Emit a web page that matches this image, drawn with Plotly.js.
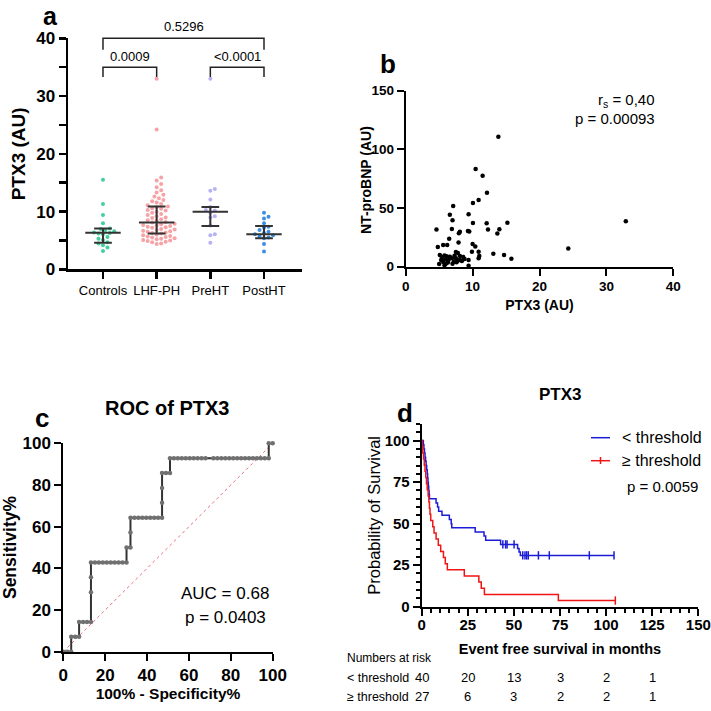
<!DOCTYPE html>
<html><head><meta charset="utf-8">
<script src="https://cdn.plot.ly/plotly-3.0.1.min.js"></script>
<style>html,body{margin:0;padding:0;background:#fff}#chart{width:711px;height:711px}</style>
</head><body><div id="chart"></div>
<script>
const F = 'Liberation Sans, Arial, Helvetica, sans-serif';

// ---------- Panel a data ----------
const groups = ['Controls', 'LHF-PH', 'PreHT', 'PostHT'];
const groupColors = ['#45cf9c', '#f5a3a6', '#b7b3f3', '#3c8ee6'];
const controls = [15.5, 11.3, 9.4, 8.0, 7.1, 7.0, 6.8, 6.6, 6.4, 6.3, 6.2, 6.1, 5.6, 5.3, 5.1, 4.7, 4.5, 4.2, 3.8, 3.2];
const lhfph = [4.4, 4.5, 4.7, 4.8, 4.9, 5.0, 5.1, 5.2, 5.3, 5.4, 5.5, 5.6, 5.7, 5.8, 5.9, 6.0, 6.2,
  6.3, 6.4, 6.5, 6.6, 6.7, 6.8, 6.9, 7.0, 7.2, 7.3, 7.4, 7.5, 7.6, 7.7, 7.8, 7.9, 8.1,
  8.2, 8.4, 8.5, 8.7, 8.9, 9.0, 9.2, 9.4, 9.6, 9.8, 10.0, 10.2, 10.3, 10.5, 10.6, 10.8, 10.9,
  11.1, 11.3, 11.6, 11.8, 12.0, 12.3, 12.6, 12.9, 13.3, 13.7, 14.2, 14.8, 15.4, 15.9, 24.2, 33.0];
const preht = [33.0, 13.9, 13.6, 12.1, 10.8, 10.3, 10.2, 9.8, 9.2, 9.0, 7.6, 6.1, 5.9, 4.6];
const postht = [9.8, 9.1, 8.8, 8.0, 7.4, 7.2, 6.8, 6.5, 6.3, 6.1, 5.9, 5.7, 5.5, 5.4, 4.4, 3.1];
const medians = [6.35, 8.1, 10.0, 6.1];
const q1 = [4.6, 6.2, 7.5, 5.4];
const q3 = [7.1, 10.9, 10.8, 7.5];
// comparisons between groups
const compA = [0, 0, 2];
const compB = [3, 1, 3];
const compTop = [40, 35, 35];
const compLeg = [38, 33.3, 33.3];
const compLabelY = [42, 36.9, 36.9];
const compLabel = ['0.5296', '0.0009', '<0.0001'];

// ---------- Panel b data ----------
const bPTX3 = [13.85, 10.45, 11.5, 12.15, 10.9, 10.05, 7.1, 6.6, 9.4, 7.0, 10.05, 12.1, 15.2, 32.9, 4.6, 6.9, 9.3, 9.5, 12.3, 14.0,
  13.7, 7.95, 8.1, 6.5, 5.6, 6.2, 7.9, 4.8, 10.0, 10.4, 24.3, 9.9, 7.5, 7.8, 10.9, 13.1, 14.7, 15.8, 11.0, 10.9,
  5.1, 5.4, 5.8, 6.1, 6.6, 7.3, 8.1, 8.6, 5.3, 5.9, 6.4, 6.9, 7.5, 8.1, 9.4, 5.0, 6.0, 7.2, 7.6, 9.4,
  5.6, 6.3, 8.4, 7.0, 5.8, 8.8, 7.8];
const bNTproBNP = [110.8, 83.2, 77.6, 63.1, 56.8, 54.2, 51.8, 44.3, 44.6, 39.6, 37.2, 37.0, 37.5, 38.7, 31.6, 32.1, 30.4, 30.0, 31.6, 32.0,
  28.3, 28.6, 29.7, 23.8, 18.5, 18.5, 20.6, 16.8, 19.3, 17.3, 15.5, 12.8, 12.5, 11.7, 12.8, 11.1, 10.0, 6.8, 9.1, 7.3,
  10.0, 8.2, 9.6, 8.9, 8.4, 9.4, 9.1, 8.3, 5.8, 6.4, 5.7, 7.1, 7.1, 5.7, 5.7, 2.3, 2.5, 4.3, 3.8, 0.9,
  4.0, 3.5, 4.8, 2.6, 1.2, 6.6, 5.2];

// ---------- Panel c data (ROC: false positives out of 53, true positives out of 14) ----------
const rocNeg = 53, rocPos = 14;
const rocFP = [0, 1, 2, 2, 3, 4, 4, 5, 6, 7, 7, 7, 7, 8, 9, 10, 11, 12, 13, 14, 15, 16, 16, 17, 17, 17,
  18, 19, 20, 21, 22, 23, 24, 25, 25, 25, 25, 26, 27,
  27, 28, 29, 30, 31, 32, 33, 34, 35, 36, 38, 39, 40, 41, 42, 43, 44, 45, 46, 47, 48, 49, 50, 51, 52, 52, 53];
const rocTP = [0, 0, 0, 1, 1, 1, 2, 2, 2, 2, 4, 5, 6, 6, 6, 6, 6, 6, 6, 6, 6, 6, 7, 7, 8, 9,
  9, 9, 9, 9, 9, 9, 9, 9, 10, 11, 12, 12, 12,
  13, 13, 13, 13, 13, 13, 13, 13, 13, 13, 13, 13, 13, 13, 13, 13, 13, 13, 13, 13, 13, 13, 13, 13, 13, 14, 14];

// ---------- Panel d data (Kaplan-Meier) ----------
const belowT = [0, 0.9, 1.2, 1.5, 1.8, 2.1, 2.4, 2.7, 3.0, 3.2, 3.4, 3.6, 3.8, 4.0, 4.2, 7.8, 8.6, 9.2, 11.0, 15.0, 16.0, 16.3, 29.0, 33.8, 34.7, 42.8, 52.0, 52.8, 53.5, 104.3];
const belowS = [100, 97.5, 95, 92.5, 90, 87.5, 85, 82.5, 80, 77.5, 75, 72.5, 70, 67.5, 65, 62.5, 60, 57.5, 55, 52.5, 50, 47.5, 45, 42.5, 40, 37.5, 35.0, 33.0, 30.9, 30.9];
const belowCensor = [44.0, 45.5, 46.3, 50.1, 54.8, 56.0, 56.9, 57.8, 63.3, 69.2, 90.9, 104.3];
const aboveT = [0, 0.3, 0.6, 1.0, 1.4, 1.8, 2.2, 2.6, 3.0, 3.5, 3.9, 4.2, 4.5, 4.9, 6.0, 6.7, 7.8, 9.0, 10.3, 11.8, 12.8, 13.9, 23.1, 31.0, 32.3, 34.0, 74.1, 105.0];
const aboveS = [100, 96.3, 92.6, 88.9, 85.2, 81.5, 77.8, 74.1, 70.4, 66.7, 63.0, 59.3, 55.6, 51.9, 48.1, 44.4, 40.7, 37.0, 33.3, 29.6, 25.9, 22.2, 18.5, 14.8, 11.1, 7.4, 3.7, 3.7];
const aboveCensor = [105.0];
const riskTimes = [0, 25, 50, 75, 100, 125];
const riskBelow = [40, 20, 13, 3, 2, 1];
const riskAbove = [27, 6, 3, 2, 2, 1];
const blueC = '#1c1cd6', redC = '#f01414';

// ---------- layout geometry ----------
const W = 711, H = 711;
const domA = {x: [68 / W, 302 / W], y: [1 - 269.4 / H, 1 - 38.3 / H]};
const rangeAx = [-0.652, 3.708];
const domB = {x: [405.7 / W, 673.3 / W], y: [1 - 266.7 / H, 1 - 90.7 / H]};
const domC = {x: [63.3 / W, 272.7 / W], y: [1 - 651.7 / H, 1 - 443.3 / H]};
const domD = {x: [421.7 / W, 698.3 / W], y: [1 - 606.7 / H, 1 - 424 / H]};
const helperTop = 0.995;
const helperRange = [0, 40 * (helperTop - domA.y[0]) / (domA.y[1] - domA.y[0])];

// beeswarm layout (deterministic, pixel-based non-overlap)
const xPxPerUnit = (domA.x[1] - domA.x[0]) * W / (rangeAx[1] - rangeAx[0]);
const yPxPerUnit = (domA.y[1] - domA.y[0]) * H / 40;
function swarm(vals, center, d) {
  const placed = [];
  const res = new Array(vals.length);
  const order = vals.map((v, i) => i).sort((a, b) => vals[a] - vals[b]);
  for (const i of order) {
    const py = vals[i] * yPxPerUnit;
    let off = 0;
    for (let s = 0; s < 400; s++) {
      const cand = s === 0 ? 0 : (s % 2 ? 1 : -1) * Math.ceil(s / 2) * d * 0.5;
      if (placed.every(p => Math.hypot(p[0] - cand, p[1] - py) >= d)) { off = cand; break; }
    }
    placed.push([off, py]);
    res[i] = center + off / xPxPerUnit;
  }
  return res;
}

const traces = [];
const groupVals = [controls, lhfph, preht, postht];
groupVals.forEach((vals, g) => {
  traces.push({type: 'scatter', mode: 'markers', x: swarm(vals, g, 4.5), y: vals, xaxis: 'x', yaxis: 'y',
    marker: {color: groupColors[g], size: 4}, cliponaxis: false, hoverinfo: 'y'});
});
groupVals.forEach((vals, g) => {
  const mw = 0.33, ww = 0.165;
  traces.push({type: 'scatter', mode: 'lines', xaxis: 'x', yaxis: 'y',
    x: [g - mw, g + mw, null, g - ww, g + ww, null, g - ww, g + ww, null, g, g],
    y: [medians[g], medians[g], null, q1[g], q1[g], null, q3[g], q3[g], null, q1[g], q3[g]],
    line: {color: '#333', width: 2}, hoverinfo: 'skip'});
});
// comparison brackets on helper axes (same scale as panel a)
compA.forEach((a, k) => {
  const b = compB[k];
  traces.push({type: 'scatter', mode: 'lines', xaxis: 'x5', yaxis: 'y5',
    x: [a, a, b, b], y: [compLeg[k], compTop[k], compTop[k], compLeg[k]],
    line: {color: '#222', width: 1.5}, hoverinfo: 'skip'});
});

// Panel b
traces.push({type: 'scatter', mode: 'markers', x: bPTX3, y: bNTproBNP, xaxis: 'x2', yaxis: 'y2',
  marker: {color: '#000', size: 4.5}, cliponaxis: false});

// Panel c
traces.push({type: 'scatter', mode: 'lines', x: [0, 100], y: [0, 100], xaxis: 'x3', yaxis: 'y3',
  line: {color: '#e8707a', width: 1, dash: 'dot'}, hoverinfo: 'skip'});
traces.push({type: 'scatter', mode: 'lines+markers', xaxis: 'x3', yaxis: 'y3',
  x: rocFP.map(v => v / rocNeg * 100), y: rocTP.map(v => v / rocPos * 100),
  line: {color: '#333', width: 2}, marker: {color: '#707070', size: 4.5}, cliponaxis: false});

// Panel d
function stepAt(T, S, t) { let v = S[0]; for (let i = 0; i < T.length; i++) { if (T[i] <= t) v = S[i]; } return v; }
traces.push({type: 'scatter', mode: 'lines', x: belowT, y: belowS, xaxis: 'x4', yaxis: 'y4',
  line: {color: blueC, width: 1.5, shape: 'hv'}});
traces.push({type: 'scatter', mode: 'markers', x: belowCensor, y: belowCensor.map(t => stepAt(belowT, belowS, t)), xaxis: 'x4', yaxis: 'y4',
  marker: {symbol: 'line-ns', size: 6, color: blueC, line: {color: blueC, width: 1.5}}, cliponaxis: false});
traces.push({type: 'scatter', mode: 'lines', x: aboveT, y: aboveS, xaxis: 'x4', yaxis: 'y4',
  line: {color: redC, width: 1.5, shape: 'hv'}});
traces.push({type: 'scatter', mode: 'markers', x: aboveCensor, y: aboveCensor.map(t => stepAt(aboveT, aboveS, t)), xaxis: 'x4', yaxis: 'y4',
  marker: {symbol: 'line-ns', size: 6, color: redC, line: {color: redC, width: 1.5}}, cliponaxis: false});

const B = (arr) => arr.map(v => '<b>' + v + '</b>');
function axis(extra) {
  return Object.assign({showline: true, linecolor: '#000', linewidth: 2, ticks: 'outside', ticklen: 7, tickwidth: 2,
    tickcolor: '#000', showgrid: false, zeroline: false, fixedrange: true,
    tickfont: {family: F, size: 14, color: '#000'}}, extra);
}
const bold = (s) => ({family: F, size: s, color: '#000', weight: 'bold'});
const norm = (s) => ({family: F, size: s, color: '#000'});

const tA = [0, 10, 20, 30, 40], tB1 = [0, 10, 20, 30, 40], tB2 = [0, 50, 100, 150];
const tC = [0, 20, 40, 60, 80, 100], tD1 = [0, 25, 50, 75, 100, 125, 150], tD2 = [0, 25, 50, 75, 100];

const layout = {
  width: W, height: H, margin: {l: 0, r: 0, t: 0, b: 0}, paper_bgcolor: '#fff', plot_bgcolor: 'rgba(0,0,0,0)',
  showlegend: false, font: {family: F, color: '#000'},
  // panel a
  xaxis: axis({domain: domA.x, anchor: 'y', range: rangeAx, tickvals: [0, 1, 2, 3], ticktext: groups,
    linewidth: 2.5, tickwidth: 2.5, tickfont: norm(13)}),
  yaxis: axis({domain: domA.y, anchor: 'x', range: [0, 40], tickvals: tA, ticktext: B(tA), linewidth: 2.5, tickwidth: 2.5,
    tickfont: norm(17), minor: {tickvals: [5, 15, 25, 35], ticklen: 7, tickwidth: 2.5, tickcolor: '#000', ticks: 'outside'},
    title: {text: 'PTX3 (AU)', font: bold(19), standoff: 6}}),
  xaxis5: {domain: domA.x, anchor: 'y5', range: rangeAx, visible: false, fixedrange: true},
  yaxis5: {domain: [domA.y[0], helperTop], anchor: 'x5', range: helperRange, visible: false, fixedrange: true},
  // panel b
  xaxis2: axis({domain: domB.x, anchor: 'y2', range: [0, 40], tickvals: tB1, ticktext: B(tB1), tickfont: norm(13.5),
    ticklabelstandoff: -1, title: {text: 'PTX3 (AU)', font: bold(14), standoff: 7}}),
  yaxis2: axis({domain: domB.y, anchor: 'x2', range: [0, 150], tickvals: tB2, ticktext: B(tB2), tickfont: norm(13.5)}),
  // panel c
  xaxis3: axis({domain: domC.x, anchor: 'y3', range: [0, 100], tickvals: tC, ticktext: B(tC), tickfont: norm(17),
    title: {text: '100% - Specificity%', font: bold(15.5), standoff: 0}}),
  yaxis3: axis({domain: domC.y, anchor: 'x3', range: [0, 100], tickvals: tC, ticktext: B(tC), tickfont: norm(17),
    title: {text: 'Sensitivity%', font: bold(17.5), standoff: 6}}),
  // panel d
  xaxis4: axis({domain: domD.x, anchor: 'y4', range: [0, 150], tickvals: tD1, ticktext: B(tD1), tickfont: norm(15),
    ticklabelstandoff: -4,
    minor: {dtick: 5, ticklen: 4, tickwidth: 2, tickcolor: '#000', ticks: 'outside'},
    title: {text: 'Event free survival in months', font: bold(14.5), standoff: 12}}),
  yaxis4: axis({domain: domD.y, anchor: 'x4', range: [0, 110], tickvals: tD2, ticktext: B(tD2), tickfont: norm(15),
    minor: {dtick: 5, ticklen: 4, tickwidth: 2, tickcolor: '#000', ticks: 'outside'},
    title: {text: 'Probability of Survival', font: norm(16.5), standoff: 0}}),
  shapes: [
    {type: 'line', xref: 'paper', yref: 'paper', x0: 591 / W, x1: 610 / W, y0: 1 - 437.7 / H, y1: 1 - 437.7 / H, line: {color: blueC, width: 1.5}},
    {type: 'line', xref: 'paper', yref: 'paper', x0: 591 / W, x1: 610 / W, y0: 1 - 460.7 / H, y1: 1 - 460.7 / H, line: {color: redC, width: 1.5}},
    {type: 'line', xref: 'paper', yref: 'paper', x0: 600.5 / W, x1: 600.5 / W, y0: 1 - 464 / H, y1: 1 - 457 / H, line: {color: redC, width: 1.5}}
  ],
  annotations: []
};
const ann = layout.annotations;
const A = (o) => ann.push(Object.assign({showarrow: false, xanchor: 'center', yanchor: 'middle'}, o));
// panel letters
A({text: 'a', xref: 'paper', yref: 'paper', x: 50 / W, y: 1, yanchor: 'top', font: bold(25)});
A({text: 'b', xref: 'paper', yref: 'paper', x: 388 / W, y: 1 - 64 / H, font: bold(26)});
A({text: 'c', xref: 'paper', yref: 'paper', x: 42 / W, y: 1 - 418 / H, font: bold(26)});
A({text: 'd', xref: 'paper', yref: 'paper', x: 405 / W, y: 1 - 413 / H, font: bold(26)});
// panel a comparison labels
compA.forEach((a, k) => A({text: compLabel[k], xref: 'x5', yref: 'y5', x: (a + compB[k]) / 2, y: compLabelY[k], font: norm(13)}));
// panel b y title and stats
A({text: 'NT-proBNP (AU)', xref: 'paper', yref: 'paper', x: 366 / W, y: 1 - 180 / H, textangle: -90, font: bold(14)});
A({text: 'r<sub>s</sub> = 0,40', xref: 'paper', yref: 'paper', x: 657 / W, y: 1 - 100 / H, xanchor: 'right', font: norm(15)});
A({text: 'p = 0.00093', xref: 'paper', yref: 'paper', x: 657 / W, y: 1 - 118 / H, xanchor: 'right', font: norm(15)});
// panel c
A({text: 'ROC of PTX3', xref: 'paper', yref: 'paper', x: 167 / W, y: 1 - 408 / H, font: bold(20)});
A({text: 'AUC = 0.68', xref: 'paper', yref: 'paper', x: 225 / W, y: 1 - 593 / H, font: norm(17)});
A({text: 'p = 0.0403', xref: 'paper', yref: 'paper', x: 225 / W, y: 1 - 617 / H, font: norm(17)});
// panel d
A({text: 'PTX3', xref: 'paper', yref: 'paper', x: 560 / W, y: 1 - 394 / H, font: bold(17)});
A({text: '< threshold', xref: 'paper', yref: 'paper', x: 620 / W, y: 1 - 437.7 / H, xanchor: 'left', font: norm(16)});
A({text: '≥ threshold', xref: 'paper', yref: 'paper', x: 620 / W, y: 1 - 460.7 / H, xanchor: 'left', font: norm(16)});
A({text: 'p = 0.0059', xref: 'paper', yref: 'paper', x: 700 / W, y: 1 - 486.7 / H, xanchor: 'right', font: norm(15)});
A({text: 'Numbers at risk', xref: 'paper', yref: 'paper', x: 345 / W, y: 1 - 657.7 / H, xanchor: 'left', font: norm(12)});
A({text: '< threshold', xref: 'paper', yref: 'paper', x: 345 / W, y: 1 - 677.7 / H, xanchor: 'left', font: norm(12.5)});
A({text: '≥ threshold', xref: 'paper', yref: 'paper', x: 345 / W, y: 1 - 696.7 / H, xanchor: 'left', font: norm(12.5)});
riskTimes.forEach((t, i) => {
  A({text: String(riskBelow[i]), xref: 'x4', yref: 'paper', x: t, y: 1 - 677.7 / H, font: norm(13)});
  A({text: String(riskAbove[i]), xref: 'x4', yref: 'paper', x: t, y: 1 - 696.7 / H, font: norm(13)});
});

Plotly.newPlot('chart', traces, layout, {staticPlot: true, displayModeBar: false});
</script>
</body></html>
